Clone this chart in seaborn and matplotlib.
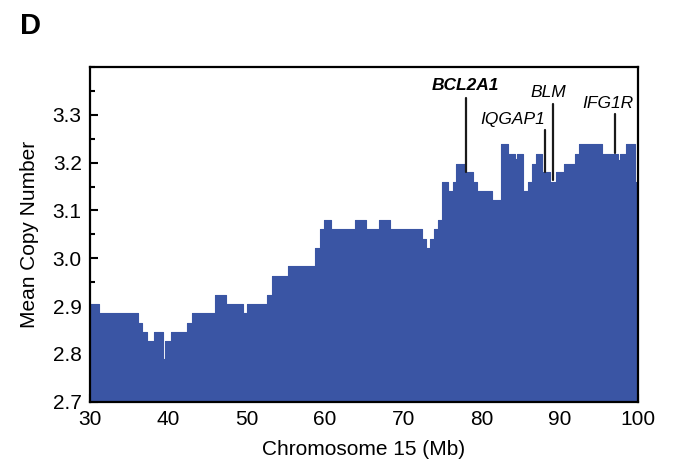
#!/usr/bin/env python3
"""Mean copy number along chromosome 15 (panel D)."""

import matplotlib
matplotlib.use("Agg")
import matplotlib.pyplot as plt
from matplotlib.ticker import MultipleLocator, FormatStrFormatter
import numpy as np
import pandas as pd
import seaborn as sns

# segment start positions (Mb) and mean copy number of each segment
seg_start = [
    30.0, 31.2, 36.1, 36.7, 37.3, 38.2, 39.3, 39.6, 40.4, 42.4,
    43.0, 46.0, 47.4, 49.5, 50.1, 52.6, 53.3, 55.3, 58.8, 59.4,
    59.9, 60.8, 63.9, 65.3, 66.9, 68.3, 72.4, 72.9, 73.5, 74.0,
    74.5, 75.0, 75.8, 76.4, 76.8, 77.9, 78.9, 79.4, 81.4, 82.5,
    83.4, 84.3, 84.5, 85.3, 85.9, 86.5, 87.0, 87.8, 88.8, 89.5,
    90.5, 92.0, 92.5, 95.4, 97.4, 97.7, 98.5, 99.6,
]
seg_level = [
    2.905, 2.885, 2.865, 2.846, 2.827, 2.846, 2.790, 2.827, 2.846, 2.865,
    2.885, 2.924, 2.905, 2.885, 2.905, 2.924, 2.963, 2.983, 3.022, 3.062,
    3.080, 3.062, 3.080, 3.062, 3.080, 3.062, 3.041, 3.022, 3.041, 3.062,
    3.080, 3.159, 3.140, 3.159, 3.198, 3.180, 3.159, 3.140, 3.121, 3.239,
    3.218, 3.208, 3.218, 3.140, 3.159, 3.198, 3.218, 3.180, 3.159, 3.180,
    3.198, 3.218, 3.239, 3.218, 3.205, 3.218, 3.239, 3.159,
]
seg_end = 100.0

# gene annotations: name, position (Mb), line top, line bottom, label x, label y
gene_names = ["BCL2A1", "IQGAP1", "BLM", "IFG1R"]
gene_pos = [78.1, 88.1, 89.1, 97.05]
gene_line_top = [3.336, 3.269, 3.322, 3.301]
gene_line_bottom = [3.181, 3.181, 3.163, 3.221]
gene_label_x = [78.0, 84.0, 88.6, 96.2]
gene_label_y = [3.361, 3.290, 3.346, 3.323]
gene_bold = [True, False, False, False]

FILL = "#3A55A4"

sns.set_theme(style="ticks")
plt.rcParams["font.family"] = ["Liberation Sans", "DejaVu Sans"]
plt.rcParams["text.color"] = "black"
plt.rcParams["axes.labelcolor"] = "black"
plt.rcParams["xtick.color"] = "black"
plt.rcParams["ytick.color"] = "black"

fig = plt.figure(figsize=(6.79, 4.66), dpi=100)
ax = fig.add_axes([0.1325, 0.138, 0.807, 0.718])

# close the last step at the chromosome end
df = pd.DataFrame({
    "pos": seg_start + [seg_end],
    "cn": seg_level + [seg_level[-1]],
})
sns.lineplot(data=df, x="pos", y="cn", drawstyle="steps-post",
             color=FILL, lw=0.8, ax=ax)
ax.fill_between(df["pos"], 2.6, df["cn"], step="post", color=FILL, lw=0)

for name, pos, top, bottom, lx, ly, bold in zip(
    gene_names, gene_pos, gene_line_top, gene_line_bottom,
    gene_label_x, gene_label_y, gene_bold,
):
    ax.plot([pos, pos], [bottom, top], color="#1a1a1a", lw=1.6, zorder=3)
    ax.text(lx, ly, name, ha="center", va="center", fontsize=12.5,
            style="italic", fontweight="bold" if bold else "normal", zorder=4)

ax.set_xlim(30, 100)
ax.set_ylim(2.7, 3.4)
ax.set_xticks(np.arange(30, 101, 10))
ax.set_yticks(np.round(np.arange(2.7, 3.31, 0.1), 1))
ax.yaxis.set_major_formatter(FormatStrFormatter("%.1f"))
ax.xaxis.set_minor_locator(MultipleLocator(5))
ax.yaxis.set_minor_locator(MultipleLocator(0.05))
ax.tick_params(which="both", direction="in", width=1.5, color="black",
               labelsize=15, pad=6, top=False, right=False)
ax.tick_params(which="major", length=6)
ax.tick_params(which="minor", length=3.5)
for sp in ax.spines.values():
    sp.set_linewidth(1.6)
    sp.set_color("black")
    sp.set_zorder(5)

ax.set_xlabel("Chromosome 15 (Mb)", fontsize=15, labelpad=8)
ax.set_ylabel("Mean Copy Number", fontsize=15, labelpad=10)

fig.text(0.030, 0.945, "D", fontsize=21, fontweight="bold", va="center")

fig.savefig("out.png", dpi=100)
